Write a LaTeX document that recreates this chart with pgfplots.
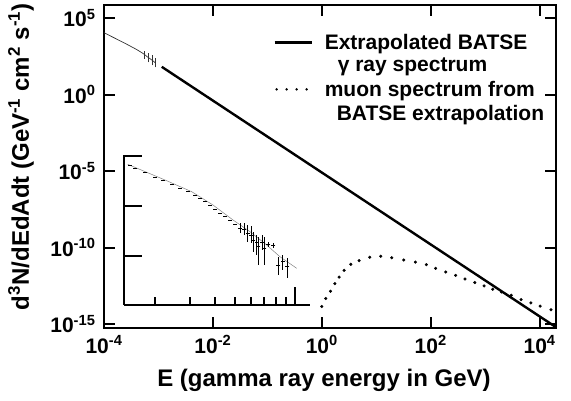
\documentclass[border=0pt]{standalone}
\usepackage{pgfplots}
\pgfplotsset{compat=1.18}
\usepackage{fontspec}
\setmainfont{Liberation Sans}
\begin{document}
\begin{tikzpicture}
\useasboundingbox (-104pt,-73pt) rectangle (467pt,328pt);
\begin{axis}[
  at={(0pt,0pt)}, anchor=south west,
  scale only axis, width=452pt, height=323pt,
  xmode=log, ymode=log,
  xmin=1e-4, xmax=2.0e4, ymin=5.5e-16, ymax=7.08e5,
  xtick={1e-4,1e-2,1,1e2,1e4},
  xticklabels={10\textsuperscript{-4},10\textsuperscript{-2},10\textsuperscript{0},10\textsuperscript{2},10\textsuperscript{4}},
  ytick={1e-15,1e-10,1e-5,1,1e5},
  yticklabels={10\textsuperscript{-15},10\textsuperscript{-10},10\textsuperscript{-5},10\textsuperscript{0},10\textsuperscript{5}},
  xminorticks=false, yminorticks=false,
  tick align=inside, major tick length=11pt,
  tick style={line width=2pt, black},
  axis line style={line width=2.2pt},
  ticklabel style={font=\bfseries\fontsize{21}{23}\selectfont},
  xticklabel style={yshift=-4pt},
  yticklabel style={xshift=-5pt},
  every axis x label/.style={at={(rel axis cs:0.5,0)}, xshift=-6pt, yshift=-52pt, anchor=center},
  every axis y label/.style={at={(rel axis cs:0,0.53)}, xshift=-83pt, rotate=90, anchor=center},
  label style={font=\bfseries\fontsize{24}{26}\selectfont},
  xlabel={E (gamma ray energy in GeV)},
  ylabel={d\textsuperscript{3}N/dEdAdt (GeV\textsuperscript{-1} cm\textsuperscript{2} s\textsuperscript{-1})},
  unbounded coords=jump,
  legend style={at={(rel axis cs:0.983,0.92)}, anchor=north east, draw=none, fill=none,
    font=\bfseries\fontsize{21}{23}\selectfont, row sep=5.5pt,
    nodes={inner sep=1pt}},
  legend cell align=left,
  clip=true,
]
% Extrapolated BATSE gamma-ray spectrum
\addplot[black, line width=2.4pt,
  legend image code/.code={\draw[line width=2.4pt] (0pt,0pt) -- (37pt,0pt); \path (48pt,0pt);}]
  coordinates {(1.15e-3,64.6) (2.0e4,6.2e-16)};
\addlegendentry{Extrapolated BATSE}
\addlegendimage{empty legend}
\addlegendentry{\hspace*{13pt}γ ray spectrum}
% muon spectrum
\addplot[only marks, mark=*, mark size=1.35pt, black,
  legend image code/.code={\draw[line width=2.7pt, line cap=round, dash pattern=on 0pt off 10pt] (2pt,0pt) -- (37pt,0pt); \path (48pt,0pt);}]
  coordinates {
  (1.0,1.41e-14) (1.183,4.68e-14) (1.442,1.38e-13) (1.734,4.37e-13) (2.080,1.17e-12)
  (2.570,3.24e-12) (3.404,7.94e-12) (4.842,1.38e-11) (7.603,2.34e-11) (12.11,2.69e-11)
  (19.23,2.14e-11) (31.99,1.51e-11) (52.36,1.12e-11) (83.18,7.59e-12) (123.0,4.37e-12)
  (188.4,2.51e-12) (287.7,1.51e-12) (426.6,8.71e-13) (645.7,5.13e-13) (955,3.09e-13)
  (1380,1.86e-13) (1995,1.26e-13) (3020,7.59e-14) (4571,3.98e-14) (6918,2.40e-14)
  (10233,1.48e-14) (16218,8.51e-15)};
\addlegendentry{muon spectrum from}
\addlegendimage{empty legend}
\addlegendentry{\hspace*{12pt}BATSE extrapolation}
% BATSE measured spectrum (thin)
\addplot[black!80, line width=0.7pt, forget plot] coordinates {
  (1.0e-4,10965) (1.259e-4,7244) (1.585e-4,4786) (1.995e-4,3162) (2.512e-4,2089)
  (3.162e-4,1349) (3.981e-4,871) (5.012e-4,525) (5.623e-4,398) (6.310e-4,282)
  (7.079e-4,214) (7.943e-4,158) (8.913e-4,112)};
\addplot[black!80, line width=0.8pt, forget plot] coordinates {
  (5.623e-4,224) (5.623e-4,708) (5.623e-4,nan)
  (6.607e-4,126) (6.607e-4,501) (6.607e-4,nan)
  (7.586e-4,79.4) (7.586e-4,398) (7.586e-4,nan)
  (8.710e-4,60.3) (8.710e-4,240)};
\end{axis}
% inset
\begin{axis}[
  at={(20pt,23pt)}, anchor=south west,
  scale only axis, width=186pt, height=150pt,
  xmode=log,
  xmin=1.396e-4, xmax=1.189e-3, ymin=0.02, ymax=3.02,
  axis lines=left, axis line style={line width=2.2pt, -},
  xtick={1e-3}, minor xtick={2e-4,3e-4,4e-4,5e-4,6e-4,7e-4,8e-4,9e-4},
  ytick={1,2,3},
  xticklabels={}, yticklabels={},
  tick align=inside, major tick length=18pt, minor tick length=8pt,
  tick style={line width=2pt, black},
  clip=false,
]
% fit line
\addplot[gray, line width=0.5pt] coordinates {
  (1.457e-4,2.834) (2.239e-4,2.52) (3.045e-4,2.286) (3.890e-4,2.02) (4.900e-4,1.72)
  (5.960e-4,1.486) (7.220e-4,1.22) (8.410e-4,0.986) (1.020e-3,0.754)};
% data points
\addplot[only marks, mark=-, mark size=1.6pt, black, line width=0.6pt] coordinates {
  (1.496e-4,2.81) (1.585e-4,2.76) (1.778e-4,2.67) (1.995e-4,2.58) (2.188e-4,2.51)
  (2.427e-4,2.44) (2.661e-4,2.35) (2.917e-4,2.30) (3.162e-4,2.22) (3.350e-4,2.15)
  (3.548e-4,2.09) (3.758e-4,2.01) (3.981e-4,1.94) (4.217e-4,1.86) (4.467e-4,1.80)
  (4.732e-4,1.71) (5.012e-4,1.64)};
\addplot[only marks, mark=-, mark size=2pt, black, line width=0.9pt,
  error bars/.cd, y dir=both, y explicit, error bar style={line width=0.9pt}, error mark=none]
  table[x=x, y=y, y error plus=ep, y error minus=em] {
  x y ep em
  5.309e-4 1.56 0.10 0.10
  5.559e-4 1.54 0.12 0.12
  5.801e-4 1.46 0.16 0.18
  6.026e-4 1.42 0.17 0.17
  6.187e-4 1.32 0.16 0.24
  6.434e-4 1.28 0.14 0.26
  6.554e-4 1.20 0.18 0.38
  6.863e-4 1.28 0.14 0.16
  7.023e-4 1.16 0.22 0.34
  7.354e-4 1.23 0.05 0.05
  7.790e-4 1.21 0.05 0.05
  8.252e-4 0.82 0.16 0.20
  8.680e-4 0.90 0.12 0.18
  9.152e-4 0.80 0.16 0.24
  };
\end{axis}
\end{tikzpicture}
\end{document}
